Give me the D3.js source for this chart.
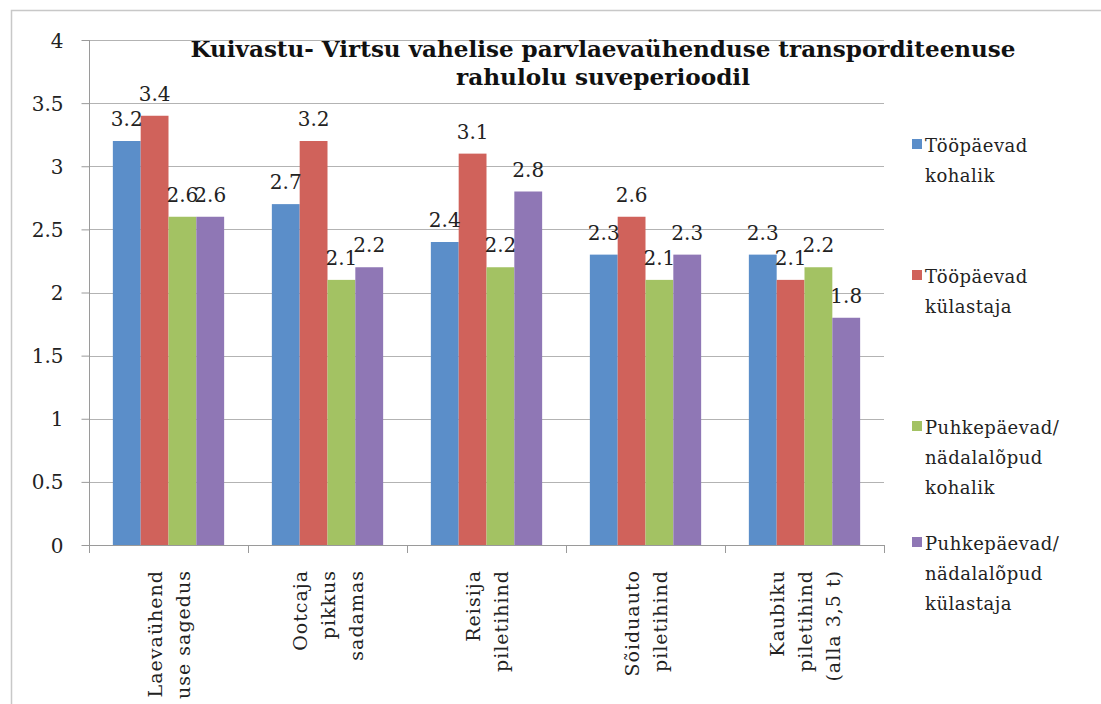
<!DOCTYPE html>
<html><head><meta charset="utf-8">
<script src="https://cdn.jsdelivr.net/npm/d3@7"></script>
<style>body{margin:0;background:#fff;} svg{display:block;}</style>
</head><body>
<script>
const categories = [
  ["Laevaühend","use sagedus"],
  ["Ootcaja","pikkus","sadamas"],
  ["Reisija","piletihind"],
  ["Sõiduauto","piletihind"],
  ["Kaubiku","piletihind","(alla 3,5 t)"]
];
const seriesNames = [
  ["Tööpäevad","kohalik"],
  ["Tööpäevad","külastaja"],
  ["Puhkepäevad/","nädalalõpud","kohalik"],
  ["Puhkepäevad/","nädalalõpud","külastaja"]
];
const tooKohalik   = [3.2, 2.7, 2.4, 2.3, 2.3];
const tooKylastaja = [3.4, 3.2, 3.1, 2.6, 2.1];
const puhkeKohalik = [2.6, 2.1, 2.2, 2.1, 2.2];
const puhkeKylastaja = [2.6, 2.2, 2.8, 2.3, 1.8];
const yTicks = [0, 0.5, 1, 1.5, 2, 2.5, 3, 3.5, 4];
const titleLines = ["Kuivastu- Virtsu vahelise parvlaevaühenduse transporditeenuse", "rahulolu suveperioodil"];
const colors = ["#5b8ec9", "#d0625b", "#a3c263", "#8f77b5"];
const series = [tooKohalik, tooKylastaja, puhkeKohalik, puhkeKylastaja];

(function(){
const W = 1101, H = 704;
const svg = d3.select("body").append("svg").attr("width", W).attr("height", H);
const font = "'DejaVu Serif', serif";

svg.append("rect").attr("x", 11.5).attr("y", 10.5).attr("width", 1200).attr("height", 800)
  .attr("fill", "none").attr("stroke", "#c8c8c8").attr("stroke-width", 1.5);

const pLeft = 89, pRight = 884, pTop = 40, pBottom = 545;
const x0 = d3.scaleBand().domain(d3.range(categories.length)).range([pLeft, pRight]).paddingInner(0.3).paddingOuter(0.15);
const x1 = d3.scaleBand().domain(d3.range(series.length)).range([0, x0.bandwidth()]);
const y = d3.scaleLinear().domain([0, 4]).range([pBottom, pTop]);

svg.append("g").selectAll("line").data(yTicks.filter(d => d > 0)).join("line")
  .attr("x1", pLeft).attr("x2", pRight).attr("y1", d => Math.round(y(d)) + 0.5).attr("y2", d => Math.round(y(d)) + 0.5)
  .attr("stroke", "#b3b3b3").attr("stroke-width", 1);

const groups = svg.append("g").selectAll("g").data(categories).join("g")
  .attr("transform", (d, i) => `translate(${x0(i)},0)`);
groups.each(function(c, i) {
  const g = d3.select(this);
  series.forEach((s, j) => {
    g.append("rect").attr("x", x1(j)).attr("width", x1.bandwidth())
      .attr("y", y(s[i])).attr("height", y(0) - y(s[i])).attr("fill", colors[j]);
  });
});
groups.each(function(c, i) {
  const g = d3.select(this);
  series.forEach((s, j) => {
    g.append("text").attr("x", x1(j) + x1.bandwidth() / 2).attr("y", y(s[i]) - 15)
      .attr("text-anchor", "middle").attr("font-family", font).attr("font-size", 20).attr("fill", "#222")
      .text(d3.format(".1f")(s[i]));
  });
});

const yAxis = d3.axisLeft(y).tickValues(yTicks).tickSize(8).tickPadding(18).tickFormat(d => String(d));
const ya = svg.append("g").attr("transform", `translate(${pLeft + 0.5},0)`).call(yAxis);
ya.select(".domain").attr("stroke", "#9a9a9a").attr("d", `M0,${pTop}V${pBottom}`);
ya.selectAll(".tick line").attr("stroke", "#9a9a9a");
ya.selectAll(".tick text").attr("font-family", font).attr("font-size", 20).attr("fill", "#222").attr("dy", "0.35em");

svg.append("line").attr("x1", pLeft).attr("x2", pRight).attr("y1", pBottom + 0.5).attr("y2", pBottom + 0.5).attr("stroke", "#9a9a9a");
const bounds = d3.range(categories.length + 1).map(i => pLeft + i * (pRight - pLeft) / categories.length);
svg.append("g").selectAll("line").data(bounds).join("line")
  .attr("x1", d => Math.round(d) + 0.5).attr("x2", d => Math.round(d) + 0.5).attr("y1", pBottom).attr("y2", pBottom + 8)
  .attr("stroke", "#9a9a9a");

categories.forEach((lines, i) => {
  const cx = x0(i) + x0.bandwidth() / 2;
  const lh = 28;
  lines.forEach((ln, k) => {
    const lx = cx + (k - (lines.length - 1) / 2) * lh + 7;
    svg.append("text").attr("transform", `translate(${lx},570) rotate(-90)`)
      .attr("text-anchor", "end").attr("font-family", font).attr("font-size", 19).attr("fill", "#222")
      .attr("letter-spacing", 1).text(ln);
  });
});

const titleWidths = [825, 294];
titleLines.forEach((t, k) => {
  svg.append("text").attr("x", 603).attr("y", 57 + k * 28).attr("text-anchor", "middle")
    .attr("font-family", font).attr("font-weight", "bold").attr("font-size", 22)
    .attr("textLength", titleWidths[k]).attr("lengthAdjust", "spacingAndGlyphs")
    .attr("fill", "#111").text(t);
});

const legTops = [152, 283, 434, 550];
seriesNames.forEach((lines, j) => {
  svg.append("rect").attr("x", 912).attr("y", legTops[j] - 13).attr("width", 10).attr("height", 10).attr("fill", colors[j]);
  lines.forEach((ln, k) => {
    svg.append("text").attr("x", 925).attr("y", legTops[j] + k * 30).attr("font-family", font)
      .attr("font-size", 18).attr("fill", "#222").attr("letter-spacing", 0.5).text(ln);
  });
});
})();
</script>
</body></html>
